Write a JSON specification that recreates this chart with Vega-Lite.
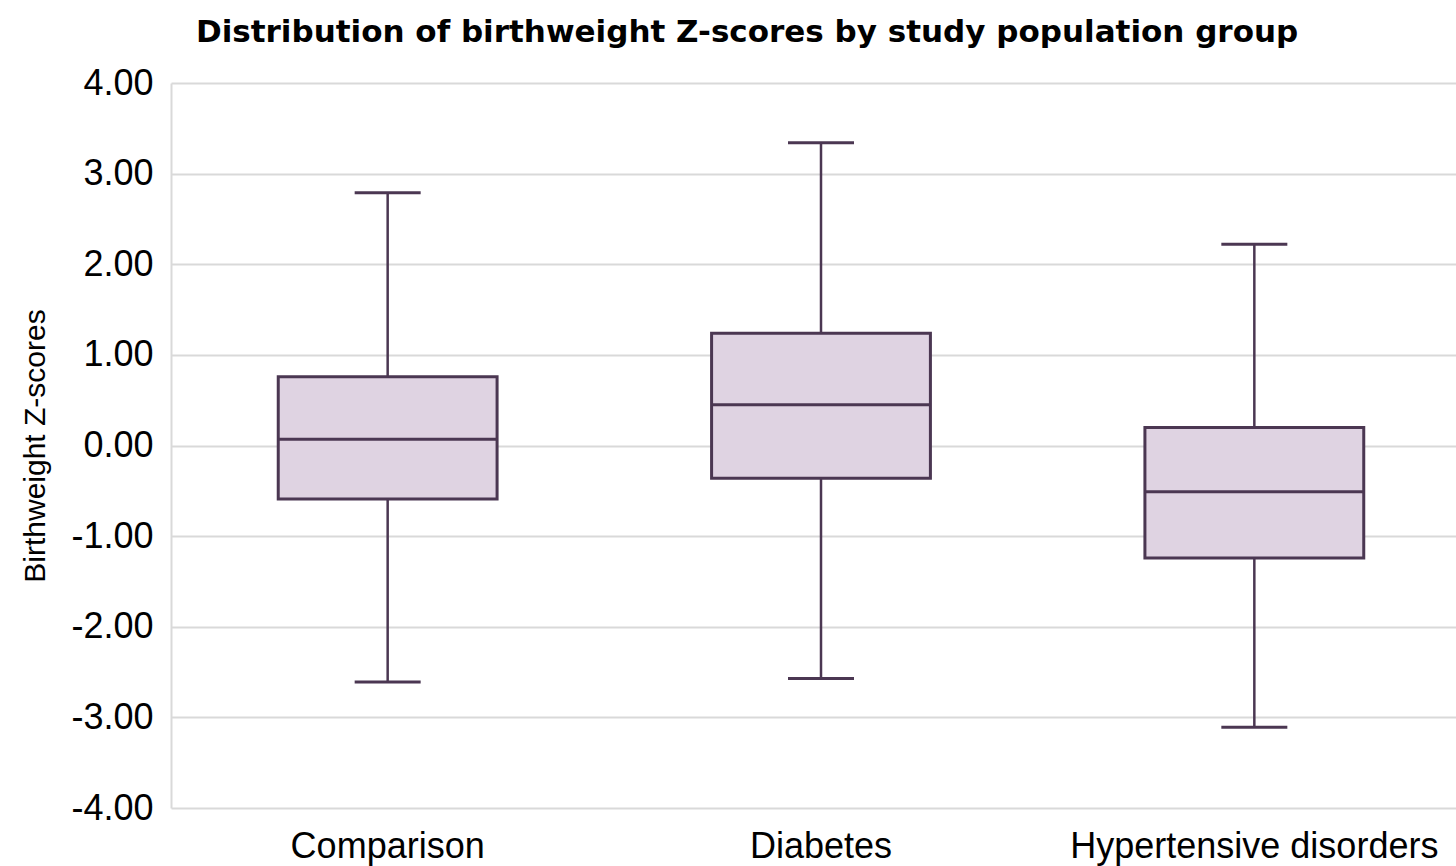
{
  "$schema": "https://vega.github.io/schema/vega-lite/v6.json",
  "autosize": {"type": "none"},
  "padding": {"left": 171, "top": 83, "right": 0, "bottom": 58},
  "width": 1300,
  "height": 725,
  "background": "white",
  "title": {
    "text": "Distribution of birthweight Z-scores by study population group",
    "font": "DejaVu Sans",
    "fontWeight": "bold",
    "fontSize": 31,
    "color": "#000000",
    "anchor": "start",
    "dx": 175,
    "offset": -8,
    "baseline": "alphabetic"
  },
  "data": {
    "values": [
      {"group": "Comparison", "min": -2.61, "q1": -0.59, "median": 0.07, "q3": 0.76, "max": 2.79},
      {"group": "Diabetes", "min": -2.57, "q1": -0.36, "median": 0.45, "q3": 1.24, "max": 3.34},
      {"group": "Hypertensive disorders", "min": -3.11, "q1": -1.24, "median": -0.51, "q3": 0.2, "max": 2.22}
    ]
  },
  "encoding": {
    "x": {
      "field": "group",
      "type": "nominal",
      "sort": null,
      "scale": {"paddingInner": 0, "paddingOuter": 0},
      "axis": {
        "title": null,
        "labelAngle": 0,
        "labelFont": "Liberation Sans",
        "labelFontSize": 36,
        "labelColor": "#000000",
        "labelPadding": 21,
        "labelLimit": 0,
        "labelOverlap": false,
        "ticks": false,
        "domain": false,
        "grid": false
      }
    }
  },
  "layer": [
    {
      "mark": {"type": "rule", "color": "#4b3752", "strokeWidth": 2.5},
      "encoding": {
        "y": {
          "field": "min",
          "type": "quantitative",
          "scale": {"domain": [-4, 4], "nice": false, "zero": false},
          "axis": {
            "title": "Birthweight Z-scores",
            "titleFont": "Liberation Sans",
            "titleFontSize": 30,
            "titleFontWeight": "normal",
            "titleColor": "#000000",
            "titlePadding": 20,
            "values": [-4, -3, -2, -1, 0, 1, 2, 3, 4],
            "labelExpr": "replace(format(datum.value, '.2f'), '\u2212', '-')",
            "labelFont": "Liberation Sans",
            "labelFontSize": 36,
            "labelColor": "#000000",
            "labelPadding": 18,
            "ticks": false,
            "domainColor": "#d9d9d9",
            "domainWidth": 2,
            "gridColor": "#d9d9d9",
            "gridWidth": 2
          }
        },
        "y2": {"field": "max"}
      }
    },
    {
      "mark": {"type": "bar", "fill": "#dfd3e2", "stroke": "#4b3752", "strokeWidth": 3, "width": {"band": 0.505}},
      "encoding": {
        "y": {"field": "q1", "type": "quantitative"},
        "y2": {"field": "q3"}
      }
    },
    {
      "mark": {"type": "tick", "color": "#4b3752", "size": 219, "thickness": 3, "opacity": 1},
      "encoding": {
        "y": {"field": "median", "type": "quantitative"}
      }
    },
    {
      "mark": {"type": "tick", "color": "#4b3752", "size": 66, "thickness": 3, "opacity": 1},
      "encoding": {
        "y": {"field": "min", "type": "quantitative"}
      }
    },
    {
      "mark": {"type": "tick", "color": "#4b3752", "size": 66, "thickness": 3, "opacity": 1},
      "encoding": {
        "y": {"field": "max", "type": "quantitative"}
      }
    }
  ],
  "config": {"view": {"stroke": null}}
}
